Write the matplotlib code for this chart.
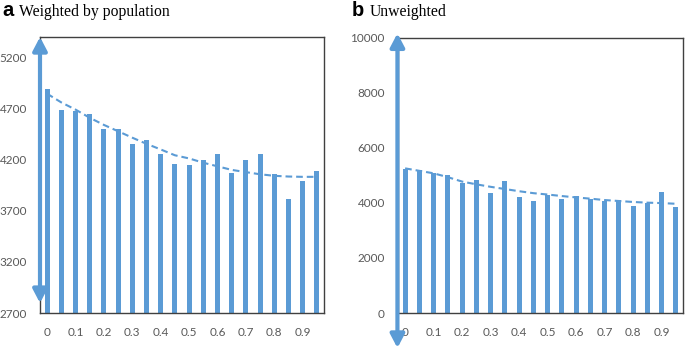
import numpy as np
import matplotlib.pyplot as plt
from matplotlib.patches import FancyArrowPatch

# 数据
x_labels = ["0", "0.1", "0.2", "0.3", "0.4", "0.5", "0.6", "0.7", "0.8", "0.9"]
weighted = [4894, 4690, 4680, 4650, 4497, 4504, 4350, 4396, 4253, 4155,
            4148, 4201, 4253, 4074, 4194, 4253, 4057, 3813, 3989, 4090]
unweighted = [5230, 5190, 5093, 5009, 4707, 4816, 4344, 4791, 4222, 4077,
              4272, 4150, 4260, 4126, 4077, 4102, 3896, 4005, 4404, 3860]
# 趋势线
weighted_trend = [4845, 4760, 4690, 4610, 4540, 4478, 4415, 4355, 4300, 4243,
                  4212, 4170, 4135, 4100, 4078, 4057, 4042, 4035, 4032, 4032]
unweighted_trend = [5250, 5160, 5070, 4930, 4770, 4670, 4580, 4500, 4420, 4350,
                    4300, 4245, 4195, 4150, 4100, 4065, 4030, 4005, 3990, 3965]

blue = "#5B9BD5"
grey = "#595959"

fig = plt.figure(figsize=(6.85, 3.49), dpi=100)

# 两个子图的位置（按像素换算）
W, H = 685, 349
ax1 = fig.add_axes([40 / W, 36 / H, 284 / W, 276 / H])
ax2 = fig.add_axes([398 / W, 36 / H, 285 / W, 275.5 / H])


def draw_panel(ax, vals, trend, ylim, yticks):
    idx = np.arange(len(vals))
    ax.bar(idx, vals, width=0.36, color=blue, zorder=2)
    ax.plot(idx, trend, linestyle=(0, (3.2, 1.9)), color=blue, lw=1.5, zorder=3)
    ax.set_xlim(-0.5, len(vals) - 0.5)
    ax.set_ylim(*ylim)
    ax.set_yticks(yticks)
    ax.set_xticks(idx[::2])
    ax.set_xticklabels(x_labels)
    ax.tick_params(length=0, labelcolor=grey, labelsize=8.5)
    ax.tick_params(axis="x", pad=10)
    ax.tick_params(axis="y", pad=9.5)
    for s in ax.spines.values():
        s.set_color("#404040")
        s.set_linewidth(1.0)
    for lab in ax.get_xticklabels() + ax.get_yticklabels():
        lab.set_family("Lato")


draw_panel(ax1, weighted, weighted_trend, (2700, 5400), range(2700, 5201, 500))
draw_panel(ax2, unweighted, unweighted_trend, (0, 10000), range(0, 10001, 2000))

# 双向箭头
def add_arrow(ax, x, y0, y1):
    arr = FancyArrowPatch((x, y0), (x, y1), transform=ax.transAxes,
                          arrowstyle="<|-|>,head_length=8,head_width=4.2",
                          mutation_scale=1, color=blue, lw=3.0,
                          shrinkA=0, shrinkB=0, clip_on=False, zorder=5)
    ax.add_patch(arr)


add_arrow(ax1, 0.0, 0.036, 1.0)
add_arrow(ax2, -0.002, -0.127, 1.015)

# 标题
ty = 1 - 15.5 / H
fig.text(2 / W, ty, "a", fontsize=14.5, fontweight="bold", family="Liberation Sans", va="baseline")
fig.text(19 / W, ty, "Weighted by population", fontsize=11.3, family="Liberation Serif", va="baseline")
fig.text(352 / W, ty, "b", fontsize=14.5, fontweight="bold", family="Liberation Sans", va="baseline")
fig.text(370 / W, ty, "Unweighted", fontsize=11.3, family="Liberation Serif", va="baseline")

fig.savefig("out.png", dpi=100)
